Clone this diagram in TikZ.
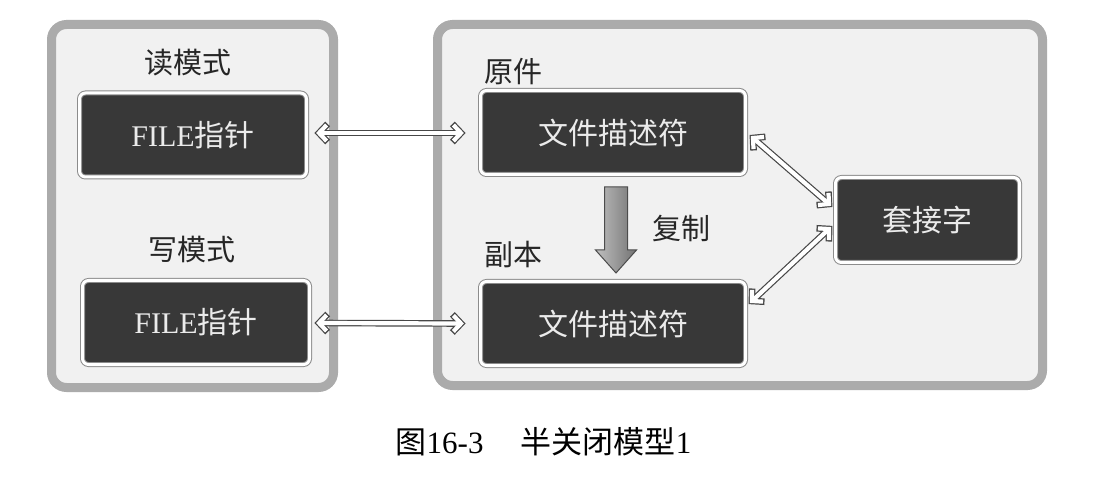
\documentclass[tikz,border=0pt]{standalone}
\usepackage{fontspec}
\setmainfont{Liberation Serif}
\newfontfamily\cjk{Noto Sans CJK SC}
\usetikzlibrary{decorations.markings}
\definecolor{panelfill}{HTML}{F1F1F1}
\definecolor{panelline}{HTML}{ABABAB}
\definecolor{boxfill}{HTML}{383838}
\definecolor{boxline}{HTML}{8C8C8C}
\definecolor{linkline}{HTML}{474747}
% hollow double-headed connector: dark outline first, white core on top
\tikzset{
  headdark/.style={draw=linkline, line width=6.6pt, line join=miter},
  headlight/.style={draw=white, line width=4.2pt, line join=miter},
  link/.style={
    preaction={draw=linkline, line width=6.6pt, shorten <=2pt, shorten >=2pt},
    preaction={decorate, decoration={markings,
      mark=at position 0 with {\draw[headdark] (10,10.5)--(0,0)--(10,-10.5);},
      mark=at position 1 with {\draw[headdark] (-10,10.5)--(0,0)--(-10,-10.5);}}},
    draw=white, line width=4.2pt, shorten <=2pt, shorten >=2pt,
    postaction={decorate, decoration={markings,
      mark=at position 0 with {\draw[headlight] (9,9.45)--(0,0)--(9,-9.45);},
      mark=at position 1 with {\draw[headlight] (-9,9.45)--(0,0)--(-9,-9.45);}}}}
}
\begin{document}
\begin{tikzpicture}[x=1pt,y=-1pt,
  panel/.style={draw=panelline, fill=panelfill, line width=9pt, rounded corners=15pt, inner sep=0pt},
  darkbox/.style={draw=boxline, double=white, double distance=3pt, line width=1pt,
    fill=boxfill, rounded corners=6pt, text=white!92!black, inner sep=0pt,
    minimum height=84pt, font=\fontsize{30}{36}\selectfont},
  lbl/.style={font=\cjk\fontsize{29}{34}\selectfont, text=black!85, inner sep=0pt}
]
\useasboundingbox (0,0) rectangle (1116,486);
\fill[white] (0,0) rectangle (1116,486);

% the two process panels
\node[panel, minimum width=282pt, minimum height=363pt] (pl) at (192.5,206) {};
\node[panel, minimum width=605pt, minimum height=361pt] (pr) at (740,205) {};

% stream side
\node[lbl] (rmode) at (188,63) {读模式};
\node[darkbox, minimum width=227pt] (f1) at (193,135) {FILE{\cjk 指针}};
\node[lbl] (wmode) at (192,250) {写模式};
\node[darkbox, minimum width=227pt] (f2) at (196,322.5) {FILE{\cjk 指针}};

% descriptor side
\node[lbl] (orig) at (513,72) {原件};
\node[darkbox, minimum width=265pt] (d1) at (613,132.5) {{\cjk 文件描述符}};
\node[lbl] (copy) at (513,255) {副本};
\node[darkbox, minimum width=265pt] (d2) at (613,323.5) {{\cjk 文件描述符}};
\node[lbl] (dup) at (681,228) {复制};
\node[darkbox, minimum width=184pt, minimum height=85pt] (sock) at (927.5,220) {{\cjk 套接字}};

% duplication arrow
\shade[left color=black!25, right color=black!55, draw=black!70, line width=1pt]
  (604.5,187) -- (627.5,187) -- (627.5,250) -- (636.5,250) -- (616,273)
  -- (595.5,250) -- (604.5,250) -- cycle;

% connections
\draw[link] ([shift={(12,-2)}]f1.east) -- ([shift={(-19,0.5)}]d1.west);
\draw[link] ([shift={(9,0.5)}]f2.east) -- ([shift={(-19,0)}]d2.west);
\draw[link] ([shift={(7,5.5)}]d1.east) -- ([shift={(-6,-16)}]sock.west);
\draw[link] ([shift={(6,-22.5)}]d2.east) -- ([shift={(-6,9)}]sock.west);

% caption
\node (cap) at (543.5,442) {\fontsize{31}{36}\selectfont{\cjk 图}16-3\hspace{1.2em}{\cjk 半关闭模型}1};
\end{tikzpicture}
\end{document}
